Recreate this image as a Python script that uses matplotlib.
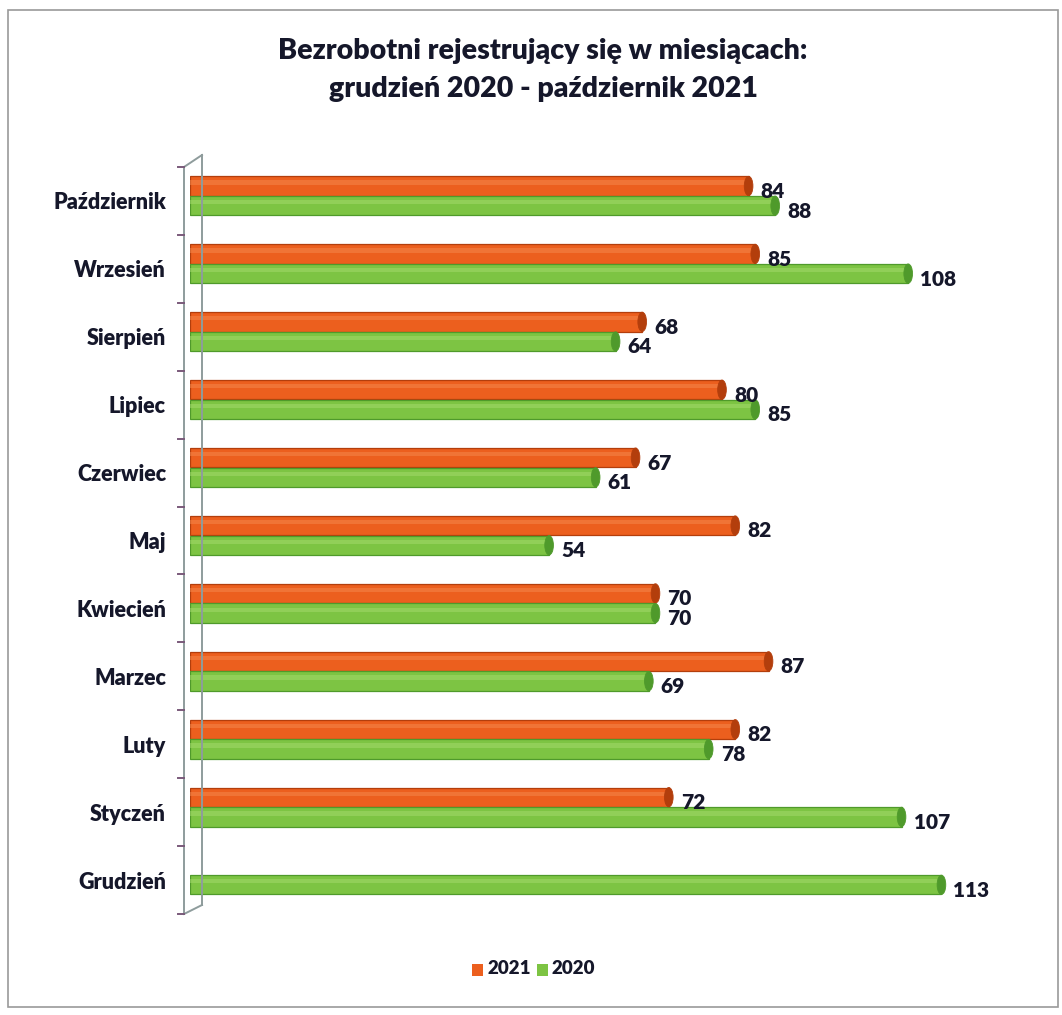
import numpy as np
import matplotlib
matplotlib.use("Agg")
import matplotlib.pyplot as plt
from matplotlib.patches import Ellipse, Rectangle
from matplotlib.lines import Line2D

months = ["Październik", "Wrzesień", "Sierpień", "Lipiec", "Czerwiec", "Maj",
          "Kwiecień", "Marzec", "Luty", "Styczeń", "Grudzień"]
v2021 = [84, 85, 68, 80, 67, 82, 70, 87, 82, 72, np.nan]
v2020 = [88, 108, 64, 85, 61, 54, 70, 69, 78, 107, 113]
series_names = ["2021", "2020"]
title = "Bezrobotni rejestrujący się w miesiącach:\ngrudzień 2020 - październik 2021"

plt.rcParams['font.family'] = ['Lato', 'DejaVu Sans']
FW = "heavy"
TXT = "#15172a"

W, H = 1062, 1015
fig = plt.figure(figsize=(W / 100, H / 100), dpi=100)
fig.patch.set_facecolor("white")

def fx(px):
    return px / W

def fy(py):
    return 1 - py / H

ax_left, ax_right = 190, 988
ax_top, ax_bot = 167, 914
ax = fig.add_axes([fx(ax_left), fy(ax_bot), fx(ax_right - ax_left), (ax_bot - ax_top) / H])
ax.set_xlim(0, 120)
ax.set_ylim(len(months) - 0.5, -0.5)
ax.axis("off")

y = np.arange(len(months))
off_o, off_g = -0.22, 0.07
bh = 0.285
orange, orange_dark, orange_light = "#EC5F1E", "#B33E0C", "#F58A4E"
green, green_dark, green_light = "#7DC443", "#4F9A2B", "#A5DB6E"

def draw_series(vals, yy, base, dark, light):
    vals = np.asarray(vals, dtype=float)
    m = ~np.isnan(vals)
    ax.barh(yy[m], vals[m], height=bh, color=base, edgecolor=dark, linewidth=0.9, zorder=2)
    ax.barh(yy[m] - bh * 0.18, vals[m], height=bh * 0.22, color=light, linewidth=0, alpha=0.5, zorder=3)
    for v, yc in zip(vals[m], yy[m]):
        ax.add_patch(Ellipse((v, yc), width=1.3, height=bh, facecolor=dark, edgecolor=dark,
                             linewidth=0.6, zorder=4))
        ax.text(v + 1.8, yc + 0.08, f"{int(v)}", ha="left", va="center", fontsize=15,
                fontweight=FW, color=TXT, zorder=5)

draw_series(v2021, y + off_o, orange, orange_dark, orange_light)
draw_series(v2020, y + off_g, green, green_dark, green_light)

for i, m in enumerate(months):
    yc = ax_top + (i + 0.5) * (ax_bot - ax_top) / len(months)
    fig.text(fx(166), fy(yc + 2), m, ha="right", va="center", fontsize=15.5,
             fontweight=FW, color=TXT)

axis_col = "#8E9C9C"
lines = [
    [(184, 167), (184, 914)],
    [(202, 155), (202, 905)],
    [(184, 167), (202, 155)],
    [(184, 914), (202, 905)],
]
for (x0, y0), (x1, y1) in lines:
    fig.add_artist(Line2D([fx(x0), fx(x1)], [fy(y0), fy(y1)], color=axis_col, lw=1.4))
for i in range(len(months) + 1):
    yt = ax_top + i * (ax_bot - ax_top) / len(months)
    fig.add_artist(Line2D([fx(178), fx(184)], [fy(yt), fy(yt)], color="#7A5A7A", lw=1.4))

fig.text(fx(543), fy(70), title, ha="center", va="center", fontsize=20.5, fontweight=FW,
         color=TXT, linespacing=1.6)

fig.add_artist(Rectangle((fx(472), fy(976)), fx(11), 12 / H, facecolor=orange, edgecolor="none"))
fig.text(fx(487), fy(969), series_names[0], ha="left", va="center", fontsize=13.5,
         fontweight=FW, color=TXT)
fig.add_artist(Rectangle((fx(537), fy(976)), fx(11), 12 / H, facecolor=green, edgecolor="none"))
fig.text(fx(552), fy(969), series_names[1], ha="left", va="center", fontsize=13.5,
         fontweight=FW, color=TXT)

fig.add_artist(Rectangle((fx(8), fy(1007)), fx(1050), 997 / H, facecolor="none",
                         edgecolor="#9A9A9A", lw=1.2))

fig.savefig("out.png", dpi=100)
